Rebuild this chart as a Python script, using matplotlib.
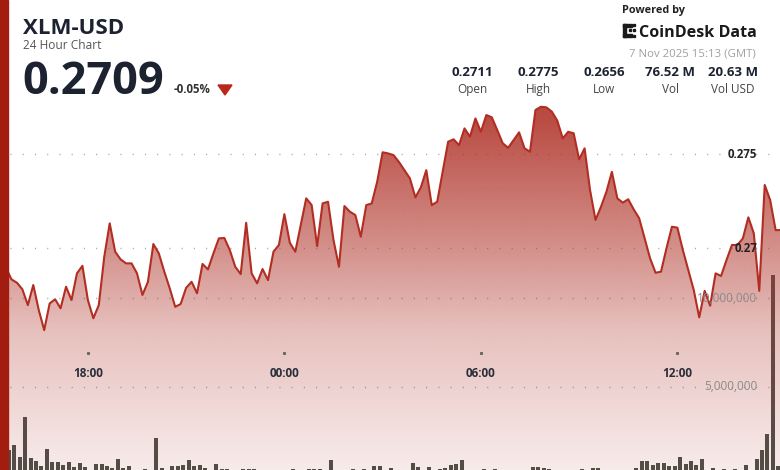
import numpy as np
import pandas as pd
import matplotlib
matplotlib.use("Agg")
import matplotlib.pyplot as plt
import matplotlib.dates as mdates
from matplotlib.transforms import blended_transform_factory
from matplotlib.patches import Rectangle, Polygon

plt.rcParams['font.family'] = ['Open Sans', 'DejaVu Sans']

# ---- values: 10 min steps, 6 Nov 15:20 -> 7 Nov 15:10 (GMT)
start = "2025-11-06 15:20"
price = [
    0.26905, 0.26896, 0.26835, 0.26817, 0.26782, 0.26698, 0.26805, 0.26672, 0.26565, 0.26707,
    0.26729, 0.26681, 0.26796, 0.26725, 0.26867, 0.26907, 0.26725, 0.26628, 0.26698, 0.26955,
    0.27133, 0.26982, 0.26941, 0.26920, 0.26920, 0.26867, 0.26752, 0.26822, 0.27023, 0.26973,
    0.26876, 0.26787, 0.26689, 0.26704, 0.26790, 0.26822, 0.26761, 0.26917, 0.26888, 0.26973,
    0.27053, 0.27055, 0.26991, 0.26902, 0.26863, 0.27136, 0.26867, 0.26814, 0.26890, 0.26831,
    0.26982, 0.27018, 0.27182, 0.27030, 0.26982, 0.27124, 0.27266, 0.27230, 0.27012, 0.27239,
    0.27248, 0.27044, 0.26902, 0.27225, 0.27195, 0.27177, 0.27062, 0.27230, 0.27239, 0.27354,
    0.27511, 0.27505, 0.27496, 0.27459, 0.27416, 0.27372, 0.27271, 0.27324, 0.27416, 0.27230,
    0.27248, 0.27407, 0.27567, 0.27580, 0.27549, 0.27638, 0.27594, 0.27691, 0.27620, 0.27709,
    0.27697, 0.27629, 0.27559, 0.27535, 0.27576, 0.27617, 0.27532, 0.27514, 0.27736, 0.27753,
    0.27750, 0.27727, 0.27679, 0.27585, 0.27620, 0.27612, 0.27473, 0.27532, 0.27310, 0.27151,
    0.27221, 0.27301, 0.27407, 0.27266, 0.27243, 0.27261, 0.27207, 0.27160, 0.27053, 0.26947,
    0.26870, 0.26876, 0.27000, 0.27115, 0.27110, 0.26991, 0.26885, 0.26778, 0.26633, 0.26774,
    0.26695, 0.26867, 0.26853, 0.26938, 0.27018, 0.27018, 0.27053, 0.27165, 0.27080, 0.26774,
    0.27337, 0.27257, 0.27097, 0.27097,
]
# volume per 10 min bar, millions of XLM
volume_m = [
    1.20, 1.41, 1.70, 1.00, 3.26, 0.94, 0.81, 0.51, 1.45, 0.75,
    0.75, 0.57, 0.74, 0.47, 0.70, 0.44, 0.28, 0.62, 0.62, 0.51,
    0.40, 0.89, 0.40, 0.51, 0.28, 0.28, 0.36, 0.28, 2.08, 0.40,
    0.28, 0.51, 0.51, 0.57, 0.85, 0.53, 0.55, 0.40, 0.28, 0.62,
    0.36, 0.32, 0.26, 0.26, 0.32, 0.36, 0.36, 0.26, 0.26, 0.26,
    0.26, 0.26, 0.28, 0.36, 0.28, 0.26, 0.36, 0.36, 0.36, 0.28,
    0.85, 0.28, 0.26, 0.28, 0.36, 0.28, 0.36, 0.28, 0.51, 0.51,
    0.28, 0.38, 0.28, 0.26, 0.28, 0.66, 0.44, 0.28, 0.44, 0.28,
    0.32, 0.41, 0.57, 0.62, 0.85, 0.28, 0.28, 0.28, 0.36, 0.28,
    0.32, 0.28, 0.28, 0.28, 0.28, 0.28, 0.28, 0.44, 0.44, 0.41,
    0.36, 0.28, 0.28, 0.28, 0.28, 0.28, 0.36, 0.28, 0.38, 0.41,
    0.28, 0.28, 0.28, 0.28, 0.28, 0.28, 0.38, 0.81, 0.81, 0.57,
    0.70, 0.70, 0.51, 0.51, 1.00, 0.62, 0.81, 0.57, 0.89, 0.28,
    0.41, 0.28, 0.36, 0.28, 0.36, 0.28, 0.57, 0.28, 0.89, 1.41,
    2.30, 11.31, 0.50, 0.30,
]

pair = "XLM-USD"
subtitle = "24 Hour Chart"
last_price = "0.2709"
change = "-0.05%"
stat_values = ["0.2711", "0.2775", "0.2656", "76.52 M", "20.63 M"]
stat_labels = ["Open", "High", "Low", "Vol", "Vol USD"]
stamp = "7 Nov 2025 15:13 (GMT)"
time_ticks = ["2025-11-06 18:00", "2025-11-07 00:00", "2025-11-07 06:00", "2025-11-07 12:00"]
price_ticks = [0.27, 0.275]
volume_ticks = [5, 10]

W, H = 780, 470
RED = "#b22d22"
DARK = "#1c2230"

times = pd.date_range(start, periods=len(price), freq="10min")
t = mdates.date2num(times.to_pydatetime())
bar_t = mdates.date2num((times + pd.Timedelta(minutes=5)).to_pydatetime())

fig = plt.figure(figsize=(W / 100, H / 100), dpi=100)
ax_vol = fig.add_axes([0, 0, 1, 1])
ax = ax_vol.twinx()
for a in (ax_vol, ax):
    a.set_axis_off()

x0 = mdates.date2num(pd.Timestamp("2025-11-06 15:19"))
x1 = mdates.date2num(pd.Timestamp("2025-11-07 15:08"))
ax_vol.set_xlim(x0, x1)
ylo, yhi = 0.25821, 0.28321
ax.set_ylim(ylo, yhi)
ax_vol.set_ylim(0.288, 26.87)

# volume bars (under the price fill)
ax_vol.bar(bar_t, volume_m, width=7.3 / 1440, color="#4a504a", zorder=2)

# dotted grid
for v in volume_ticks:
    ax_vol.axhline(v, xmin=10 / W, color="#a8a8a8", lw=1.0, ls=(0, (0.8, 8)), zorder=1)
for p in price_ticks:
    ax.axhline(p, xmin=10 / W, color="#a8a8a8", lw=1.0, ls=(0, (0.8, 8)), zorder=1)

# gradient fill under the price line
fill = ax.fill_between(t, price, ylo, facecolor="none", edgecolor="none")
py = np.arange(H)
alpha = np.interp(py, [100, 120, 250, 330, 440, 470], [0.9, 0.88, 0.54, 0.31, 0.14, 0.10])
img = np.zeros((H, 2, 4))
img[:, :, 0] = 176 / 255
img[:, :, 1] = 52 / 255
img[:, :, 2] = 42 / 255
img[:, :, 3] = alpha[:, None]
im = ax.imshow(img, extent=[x0, x1, ylo, yhi], aspect="auto", origin="upper", zorder=3,
               interpolation="bilinear")
im.set_clip_path(fill.get_paths()[0], transform=ax.transData)
ax.set_xlim(x0, x1)
ax.set_ylim(ylo, yhi)

ax.plot(t, price, color=RED, lw=1.5, zorder=4, solid_joinstyle="round")

# axis labels on the right
tr_p = blended_transform_factory(ax.transAxes, ax.transData)
tr_v = blended_transform_factory(ax.transAxes, ax_vol.transData)
for p in price_ticks:
    ax.text(757.5 / W, p, f"{p:g}", transform=tr_p, ha="right", va="center",
            fontsize=8.3, fontweight="bold", color="#222222", zorder=6)
for v in volume_ticks:
    ax.text(757.5 / W, v, f"{v * 1e6:,.0f}", transform=tr_v, ha="right", va="center",
            fontsize=8.5, color="#8a8a8a", zorder=6)

# time axis labels inside the plot
tr_x = blended_transform_factory(ax.transData, ax.transAxes)
for s in time_ticks:
    tx = mdates.date2num(pd.Timestamp(s))
    ax.plot([tx], [1 - 353 / H], marker="s", ms=1.2, color="#666666", transform=tr_x, zorder=6)
    ax.text(tx, 1 - 376.7 / H, pd.Timestamp(s).strftime("%H:%M"), transform=tr_x, ha="center",
            va="baseline", fontsize=8.5, fontweight="bold", color="#2a2f3a", zorder=6)


def put(x, y, s, **kw):
    fig.text(x / W, 1 - y / H, s, va="baseline", **kw)


# header
put(23, 34, pair, fontsize=16, fontweight="bold", color=DARK)
put(23, 49, subtitle, fontsize=8.6, color="#555555")
put(22, 93.5, last_price, fontsize=32.5, fontweight="bold", color=DARK)
put(174, 93.3, change, fontsize=8.3, fontweight="bold", color="#333333")
fig.add_artist(Polygon([(218 / W, 1 - 85 / H), (232 / W, 1 - 85 / H), (225 / W, 1 - 95 / H)],
                       closed=True, transform=fig.transFigure, color="#b8271a"))

put(622.5, 13, "Powered by", fontsize=7.8, fontweight="bold", color="#222222")
put(639, 37, "CoinDesk Data", fontsize=11.6, fontweight="bold", color="#1a1a1a")
# small logo mark
for (lx, ly, lw_, lh) in [(623, 24, 3, 13), (623, 24, 9, 2.5), (623, 34.5, 9, 2.5),
                          (629, 29, 2, 2), (633, 29, 2, 2), (633, 24, 2, 2), (633, 34.5, 2, 2)]:
    fig.add_artist(Rectangle((lx / W, 1 - (ly + lh) / H), lw_ / W, lh / H,
                             transform=fig.transFigure, color="#1a1a1a"))
put(756, 57, stamp, fontsize=8.2, color="#a0a0a0", ha="right")

stat_x = [472, 538, 604, 670, 733]
for x, val, lab in zip(stat_x, stat_values, stat_labels):
    put(x, 76, val, fontsize=9.5, fontweight="bold", color=DARK, ha="center")
    put(x, 93, lab, fontsize=8.5, color="#444444", ha="center")

# red side stripe
fig.add_artist(Rectangle((0, 0), 8.3 / W, 1, transform=fig.transFigure, color="#a31c10", zorder=10))

fig.savefig("out.png", dpi=100)
